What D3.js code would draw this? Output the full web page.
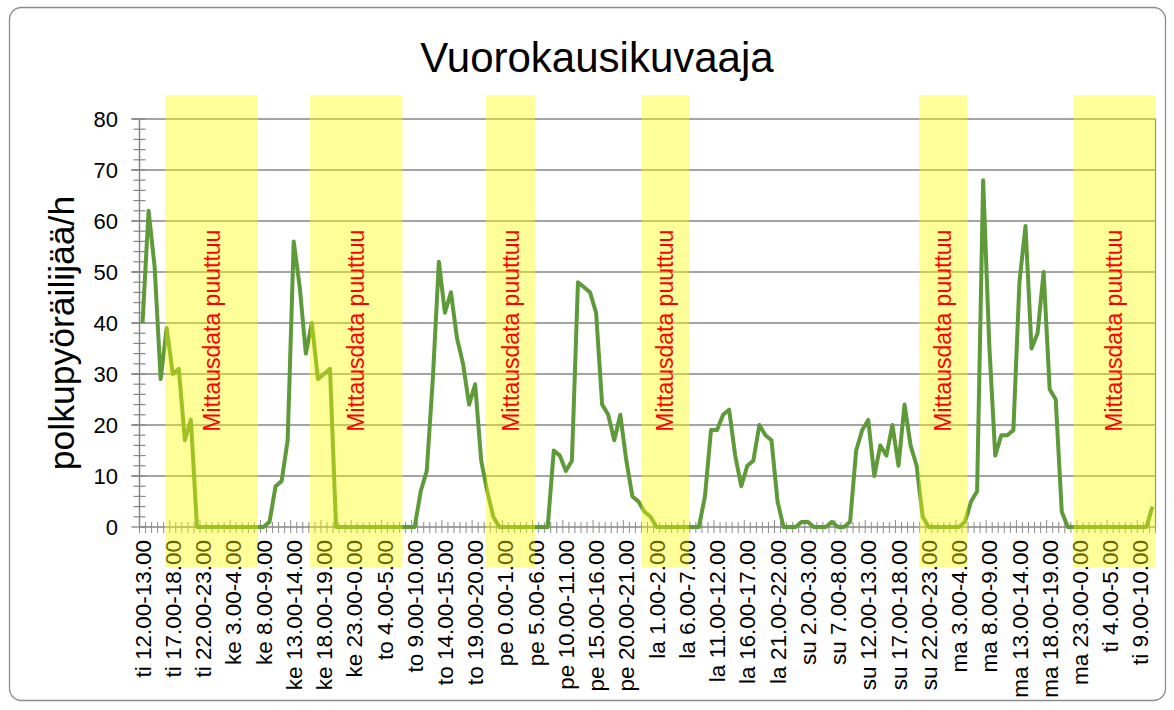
<!DOCTYPE html>
<html><head><meta charset="utf-8">
<script src="https://cdn.jsdelivr.net/npm/d3@7"></script>
<style>body{margin:0;background:#fff}svg{display:block}</style>
</head><body>
<svg id="c" width="1174" height="710"></svg>
<script>
// ---- data ----
const title = "Vuorokausikuvaaja";
const yTitle = "polkupyöräilijää/h";
const dayNames = ["ti","ke","to","pe","la","su","ma","ti"];
const startHour = 12;
const counts = [
 40,62,51,29,39,30,31,17,21,0, 0,0,0,0,0,0,0,0,0,0,
 0,1,8,9,17,56,47,34,40,29, 30,31,0,0,0,0,0,0,0,0,
 0,0,0,0,0,0,7,11,29,52, 42,46,37,32,24,28,13,7,2,0,
 0,0,0,0,0,0,0,0,15,14, 11,13,48,47,46,42,24,22,17,22,
 13,6,5,3,2,0,0,0,0,0, 0,0,0,6,19,19,22,23,14,8,
 12,13,20,18,17,5,0,0,0,1, 1,0,0,0,1,0,0,1,15,19,
 21,10,16,14,20,12,24,16,12,2, 0,0,0,0,0,0,1,5,7,68,
 36,14,18,18,19,48,59,35,38,50, 27,25,3,0,0,0,0,0,0,0,
 0,0,0,0,0,0,0,4
];
// missing-data intervals on the hour axis (start, end in hours from first category)
const missingStart = [4.25, 28.2, 57.3, 83.0, 128.9, 154.4];
const missingEnd   = [19.6, 43.5, 65.4, 90.9, 136.9, 168];
const missingLabel = "Mittausdata puuttuu";
const yTicks = [0,10,20,30,40,50,60,70,80];
const yMinorStep = 2;
const labelEvery = 5;

const categories = counts.map((_, i) => {
  const h = startHour + i;
  const day = dayNames[Math.floor(h / 24)];
  const hh = h % 24;
  return `${day} ${hh}.00-${(hh + 1) % 24}.00`;
});

// ---- layout ----
const svg = d3.select("#c");
const L = 139.5, R = 1155.5, T = 119, B = 527;
const font = "'Liberation Sans', Arial, sans-serif";
const n = counts.length;

const x = d3.scaleBand().domain(d3.range(n)).range([L, R]).padding(0);
const xh = d3.scaleLinear().domain([0, n]).range([L, R]);
const y = d3.scaleLinear().domain([0, 80]).range([B, T]);
const cx = i => x(i) + x.bandwidth() / 2;

// outer border
svg.append("rect").attr("x", 9.5).attr("y", 7.5).attr("width", 1156).attr("height", 693)
  .attr("rx", 12).attr("fill", "#fff").attr("stroke", "#8c8c8c").attr("stroke-width", 1.3);

// title
svg.append("text").attr("x", 597).attr("y", 72).attr("text-anchor", "middle")
  .attr("font-family", font).attr("font-size", 42).attr("fill", "#000").text(title);

// gridlines
svg.append("g").selectAll("line").data(yTicks.filter(d => d > 0)).join("line")
  .attr("x1", L - 8).attr("x2", R).attr("y1", d => y(d)).attr("y2", d => y(d))
  .attr("stroke", "#868686").attr("stroke-width", 1.3);

// right border
svg.append("line").attr("x1", R).attr("x2", R).attr("y1", T).attr("y2", B)
  .attr("stroke", "#868686").attr("stroke-width", 1.3);

// y axis
const yAxis = svg.append("g");
yAxis.append("line").attr("x1", L).attr("x2", L).attr("y1", T).attr("y2", B)
  .attr("stroke", "#868686").attr("stroke-width", 1.5);
const minor = d3.range(0, 80 + 0.001, yMinorStep).filter(v => v % 10 !== 0);
yAxis.selectAll(".mn").data(minor).join("line")
  .attr("x1", L - 6).attr("x2", L + 6).attr("y1", d => y(d)).attr("y2", d => y(d))
  .attr("stroke", "#868686").attr("stroke-width", 1.2);
yAxis.selectAll(".mj").data(yTicks).join("line")
  .attr("x1", L - 8).attr("x2", L + 6).attr("y1", d => y(d)).attr("y2", d => y(d))
  .attr("stroke", "#868686").attr("stroke-width", 1.3);
yAxis.selectAll("text").data(yTicks).join("text")
  .attr("x", 118).attr("y", d => y(d)).attr("dy", "0.35em").attr("text-anchor", "end")
  .attr("font-family", font).attr("font-size", 22).attr("fill", "#000").text(d => d);

// y title
svg.append("text").attr("transform", `translate(74,333) rotate(-90)`)
  .attr("text-anchor", "middle").attr("font-family", font).attr("font-size", 35.5)
  .attr("fill", "#000").text(yTitle);

// x axis
const xAxis = svg.append("g");
xAxis.append("line").attr("x1", L).attr("x2", R).attr("y1", B).attr("y2", B)
  .attr("stroke", "#868686").attr("stroke-width", 1.5);
xAxis.selectAll(".t").data(d3.range(n + 1)).join("line")
  .attr("x1", d => xh(d)).attr("x2", d => xh(d))
  .attr("y1", d => B - (d % labelEvery === 0 ? 7 : 5)).attr("y2", d => B + 6)
  .attr("stroke", "#8c8c8c").attr("stroke-width", 1);
xAxis.selectAll("text").data(d3.range(0, n, labelEvery)).join("text")
  .attr("transform", d => `translate(${cx(d)},${B + 13}) rotate(-90)`)
  .attr("dy", "0.36em").attr("text-anchor", "end")
  .attr("font-family", font).attr("font-size", 22.5).attr("fill", "#000")
  .text(d => categories[d]);

// line
const line = d3.line().x((d, i) => cx(i)).y(d => y(d));
svg.append("path").datum(counts).attr("d", line).attr("fill", "none")
  .attr("stroke", "#5f9a3a").attr("stroke-width", 4).attr("stroke-linejoin", "round");

// missing data bands (overlay)
const bands = missingStart.map((s, k) => ({ s, e: missingEnd[k] }));
const bandTop = y(80) - 24, bandBot = B + 40;
svg.append("g").selectAll("rect").data(bands).join("rect")
  .attr("x", d => xh(d.s)).attr("width", d => xh(d.e) - xh(d.s))
  .attr("y", bandTop).attr("height", bandBot - bandTop)
  .attr("fill", "#ffff00").attr("fill-opacity", 0.4);
svg.append("g").selectAll("text").data(bands).join("text")
  .attr("transform", d => `translate(${(xh(d.s) + xh(d.e)) / 2},${y(38.5)}) rotate(-90)`)
  .attr("dy", "0.35em").attr("text-anchor", "middle")
  .attr("font-family", font).attr("font-size", 23).attr("fill", "#ff0000")
  .text(missingLabel);
</script>
</body></html>
